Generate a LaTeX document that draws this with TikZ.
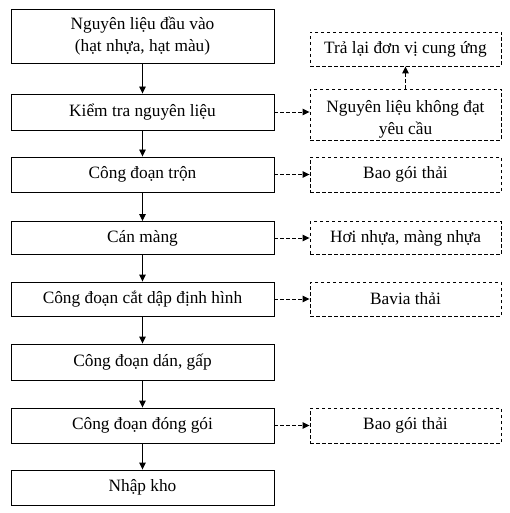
\documentclass[tikz,border=0pt]{standalone}
\usepackage{fontspec}
\setmainfont{Liberation Serif}
\usetikzlibrary{arrows.meta,calc}
\begin{document}
\begin{tikzpicture}[x=1pt,y=-1pt,
  main/.style={draw,line width=0.9pt,minimum width=263pt,align=center,inner sep=0pt,font=\fontsize{17.3}{22}\selectfont},
  side/.style={draw,dash pattern=on 3.5pt off 2.5pt,line width=0.9pt,minimum width=191pt,align=center,inner sep=0pt,font=\fontsize{17.3}{22}\selectfont},
  flow/.style={-{Triangle[length=7pt,width=6.5pt]},line width=0.9pt},
  dflow/.style={-{Triangle[length=7pt,width=6.5pt]},dash pattern=on 3.5pt off 2.5pt,line width=0.9pt}]
\useasboundingbox (0,0) rectangle (509,513);
\node[main,minimum height=54pt] (b1) at (142.5,36) {Nguyên liệu đầu vào\\(hạt nhựa, hạt màu)};
\node[main,minimum height=36pt] (b2) at (142.5,112) {Kiểm tra nguyên liệu};
\node[main,minimum height=35pt] (b3) at (142.5,174.5) {Công đoạn trộn};
\node[main,minimum height=33pt] (b4) at (142.5,238) {Cán màng};
\node[main,minimum height=34pt] (b5) at (142.5,299) {Công đoạn cắt dập định hình};
\node[main,minimum height=36pt] (b6) at (142.5,362) {Công đoạn dán, gấp};
\node[main,minimum height=35pt] (b7) at (142.5,425.5) {Công đoạn đóng gói};
\node[main,minimum height=35pt] (b8) at (142.5,487.5) {Nhập kho};
\node[side,minimum height=34pt] (r0) at (405.5,49) {Trả lại đơn vị cung ứng};
\node[side,minimum height=51pt] (r1) at (405.5,114.5) {\rule{0pt}{21pt}Nguyên liệu không đạt\\yêu cầu};
\node[side,minimum height=35pt] (r2) at (405.5,174.5) {Bao gói thải};
\node[side,minimum height=33pt] (r3) at (405.5,238) {Hơi nhựa, màng nhựa};
\node[side,minimum height=34pt] (r4) at (405.5,299) {Bavia thải};
\node[side,minimum height=35pt] (r5) at (405.5,425.5) {Bao gói thải};
\foreach \a/\b in {b1/b2,b2/b3,b3/b4,b4/b5,b5/b6,b6/b7,b7/b8}
  \draw[flow] (\a) -- (\b);
\draw[dflow] (b2.east) -- (b2.east -| r1.west);
\draw[dflow] (b3) -- (r2);
\draw[dflow] (b4) -- (r3);
\draw[dflow] (b5) -- (r4);
\draw[dflow] (b7) -- (r5);
\draw[dflow] (r1) -- (r0);
\end{tikzpicture}
\end{document}
